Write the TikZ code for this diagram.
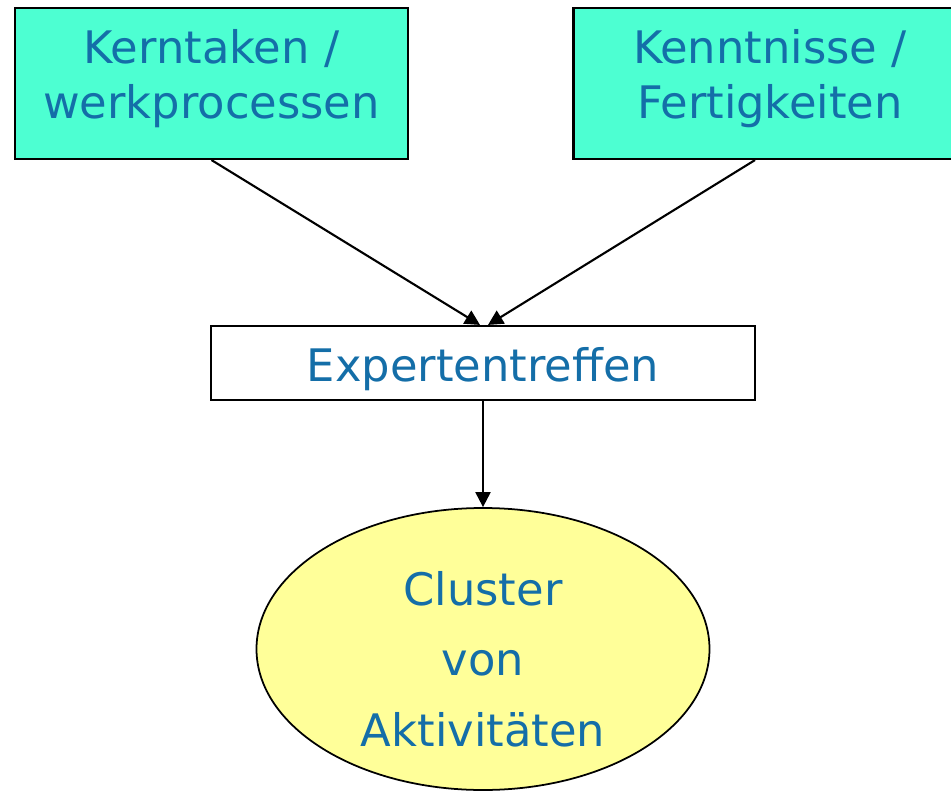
\documentclass[tikz,border=0pt]{standalone}
\usepackage{fontspec}
\setmainfont{DejaVu Sans}
\usetikzlibrary{arrows.meta,shapes.geometric}
\definecolor{boxgreen}{RGB}{77,255,210}
\definecolor{textblue}{RGB}{20,110,168}
\definecolor{ellyellow}{RGB}{255,255,153}
\begin{document}
\begin{tikzpicture}[
  main box/.style={rectangle,draw,line width=1.2pt,inner sep=0pt},
  main text/.style={align=center,text=textblue,font=\fontsize{25.5}{31}\selectfont},
  main oval/.style={ellipse,draw,line width=1pt,fill=ellyellow,inner sep=0pt,
    minimum width=9.06cm,minimum height=5.64cm}]
  \useasboundingbox (0,0) rectangle (19.02,-15.82);

  \node[main box,fill=boxgreen,minimum width=7.86cm,minimum height=3.02cm,
    label={[main text,yshift=0.1cm]center:Kerntaken /\\werkprocessen}] (1) at (4.23,-1.67) {};
  \node[main box,fill=boxgreen,minimum width=7.86cm,minimum height=3.02cm,
    label={[main text,yshift=0.1cm]center:Kenntnisse /\\Fertigkeiten}] (2) at (15.40,-1.67) {};
  \node[main box,fill=white,minimum width=10.88cm,minimum height=1.48cm,
    label={[main text,yshift=-0.13cm]center:Expertentreffen}] (3) at (9.66,-7.26) {};
  \node[main oval,
    label={[main text,font=\fontsize{25.5}{40}\selectfont,yshift=-0.2cm]center:Cluster\\von\\Aktivitäten}] (4) at (9.66,-12.98) {};

  \path[line width=1.2pt,-{Triangle[length=0.3cm,width=0.3cm]}]
   (1.south) edge ([xshift=-0.06cm]3.north)
   ([xshift=-0.3cm]2.south) edge ([xshift=0.1cm]3.north)
   (3) edge (4);
\end{tikzpicture}
\end{document}
